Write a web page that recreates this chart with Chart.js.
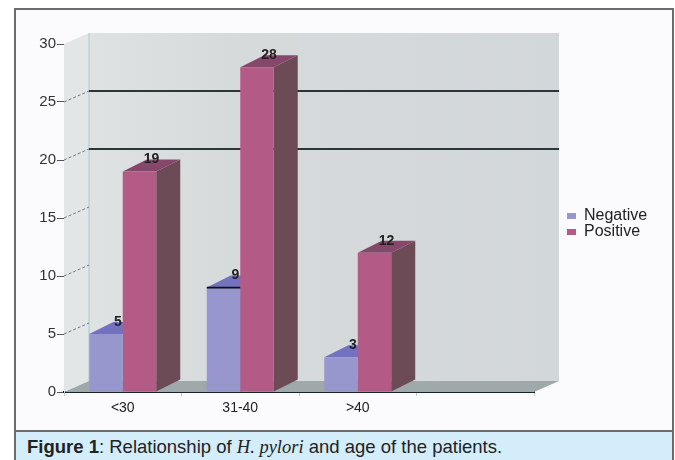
<!DOCTYPE html>
<html>
<head>
<meta charset="utf-8">
<title>H. pylori by age</title>
<script src="https://cdn.jsdelivr.net/npm/chart.js@4/dist/chart.umd.min.js"></script>
<style>
  html, body { margin: 0; background: #fff; }
  #page { position: relative; width: 675px; height: 460px; overflow: hidden; }
  #frame { position: absolute; left: 14px; top: 8px; width: 656px; height: 422px; background: #fbfbfd; border: 2px solid #6b6b6b; border-bottom: 0; }
  #chart { position: absolute; left: 0; top: 0; filter: blur(0.6px); }
  #caption { position: absolute; left: 14px; top: 430px; width: 645px; height: 30px; padding-left: 11px; background: #d4edfb; border: 2px solid #6b6b6b; border-bottom: 0; box-sizing: content-box; font: 18.5px/30px "Liberation Sans", Arial, sans-serif; color: #222; white-space: nowrap; }
  #caption i { font-family: "Liberation Serif", serif; }
</style>
</head>
<body>
<div id="page">
  <div id="frame"></div>
  <canvas id="chart" width="675" height="431"></canvas>
  <div id="caption"><b>Figure 1</b>: Relationship of <i>H. pylori</i> and age of the patients.</div>
</div>
<script>
const categories = ["<30", "31-40", ">40", ""];
const negative = [5, 9, 3, null];
const positive = [19, 28, 12, null];
const yTicks = [0, 5, 10, 15, 20, 25, 30];
const wallLines = [20, 25];
const wallDashes = [5, 10, 15, 20, 25];

// depth of the fake 3D box and of the bars
const wallDx = 25, wallDy = -11;
const barDx = 24, barDy = -12;

const font = "Liberation Sans";

const faces = [
  { top: "#7272bf", side: "#5f5f90" },
  { top: "#86486a", side: "#6c4a56" }
];

function poly(ctx, pts, fill) {
  ctx.beginPath();
  pts.forEach((p, i) => i ? ctx.lineTo(p[0], p[1]) : ctx.moveTo(p[0], p[1]));
  ctx.closePath();
  ctx.fillStyle = fill;
  ctx.fill();
}

function line(ctx, x1, y1, x2, y2, color, width, dash) {
  ctx.save();
  ctx.strokeStyle = color;
  ctx.lineWidth = width;
  ctx.setLineDash(dash || []);
  ctx.beginPath();
  ctx.moveTo(x1, y1);
  ctx.lineTo(x2, y2);
  ctx.stroke();
  ctx.restore();
}

const box3d = {
  id: "box3d",
  afterLayout(chart) {
    // legend sits in the margin right of the box
    const l = chart.legend;
    l.left = 567;
    l.right = l.left + l.width;
    l.top = 208;
    l.bottom = l.top + l.height;
  },
  beforeDatasetsDraw(chart) {
    const { ctx, chartArea: a, scales: { y } } = chart;
    const x0 = a.left, x1 = a.right, y0 = a.bottom, yt = a.top;

    const back = ctx.createLinearGradient(x0 + wallDx, 0, x1 + wallDx, 0);
    back.addColorStop(0, "#dfe2e2");
    back.addColorStop(0.3, "#d6dadb");
    back.addColorStop(1, "#d2d7d9");
    poly(ctx, [[x0 + wallDx, yt + wallDy], [x1 + wallDx, yt + wallDy], [x1 + wallDx, y0 + wallDy], [x0 + wallDx, y0 + wallDy]], back);
    poly(ctx, [[x0, yt], [x0 + wallDx, yt + wallDy], [x0 + wallDx, y0 + wallDy], [x0, y0]], "#e2e6e7");
    poly(ctx, [[x0, y0], [x0 + wallDx, y0 + wallDy], [x1 + wallDx, y0 + wallDy], [x1, y0]], "#a0a9a9");
    line(ctx, x0 + wallDx, yt + wallDy, x0 + wallDx, y0 + wallDy, "#b4c6d0", 1);

    wallDashes.forEach(v => {
      const py = y.getPixelForValue(v);
      line(ctx, x0, py, x0 + wallDx, py + wallDy, "#6f7d85", 1, [3, 2]);
    });
    wallLines.forEach(v => {
      const py = y.getPixelForValue(v) + wallDy;
      line(ctx, x0 + wallDx, py, x1 + wallDx, py, "#2c3538", 1.8);
    });

    // top and side faces go under the front faces the library draws
    chart.data.datasets.forEach((ds, di) => {
      chart.getDatasetMeta(di).data.forEach((bar, i) => {
        if (ds.data[i] == null) return;
        const p = bar.getProps(["x", "y", "base", "width"], true);
        const l = p.x - p.width / 2, r = p.x + p.width / 2;
        poly(ctx, [[r, p.y], [r + barDx, p.y + barDy], [r + barDx, p.base + barDy], [r, p.base]], faces[di].side);
        poly(ctx, [[l, p.y], [l + barDx, p.y + barDy], [r + barDx, p.y + barDy], [r, p.y]], faces[di].top);
      });
    });
  },
  afterDatasetsDraw(chart) {
    const { ctx } = chart;
    // the middle blue bar has a dark top edge
    const mid = chart.getDatasetMeta(0).data[1].getProps(["x", "y", "width"], true);
    line(ctx, mid.x - mid.width / 2, mid.y, mid.x + mid.width / 2, mid.y, "#111", 1.6);

    ctx.save();
    ctx.font = "bold 14px '" + font + "'";
    ctx.fillStyle = "#222";
    ctx.textAlign = "center";
    ctx.textBaseline = "middle";
    chart.data.datasets.forEach((ds, di) => {
      chart.getDatasetMeta(di).data.forEach((bar, i) => {
        if (ds.data[i] == null) return;
        const p = bar.getProps(["x", "y"], true);
        ctx.fillText(ds.data[i], p.x + 12, p.y - 12);
      });
    });
    ctx.restore();
  }
};

new Chart(document.getElementById("chart").getContext("2d"), {
  type: "bar",
  data: {
    labels: categories,
    datasets: [
      { label: "Negative", data: negative, backgroundColor: "#9797cd" },
      { label: "Positive", data: positive, backgroundColor: "#b35a86" }
    ]
  },
  plugins: [box3d],
  options: {
    responsive: false,
    animation: false,
    devicePixelRatio: 1,
    layout: { padding: { top: 44, right: 141, left: 0, bottom: 0 } },
    datasets: { bar: { barPercentage: 1, categoryPercentage: 0.57 } },
    plugins: {
      tooltip: { enabled: false },
      legend: {
        position: "chartArea",
        align: "start",
        labels: {
          boxWidth: 9,
          boxHeight: 6,
          padding: 0,
          color: "#222",
          font: { family: font, size: 16 }
        }
      }
    },
    scales: {
      x: {
        afterFit(s) { s.height = 39; },
        border: { color: "#15252b", width: 2 },
        grid: { drawOnChartArea: false, tickLength: 4, color: "#c4cacc" },
        ticks: { padding: 4, color: "#222", maxRotation: 0, font: { family: font, size: 14 } }
      },
      y: {
        min: 0,
        max: 30,
        afterFit(s) { s.width = 64; },
        afterBuildTicks(s) { s.ticks = yTicks.map(v => ({ value: v })); },
        border: { color: "#b4c6d0", width: 1 },
        grid: { drawOnChartArea: false, tickLength: 7, color: "#556" },
        ticks: { padding: 1, color: "#333", font: { family: font, size: 15 } }
      }
    }
  }
});
</script>
</body>
</html>
